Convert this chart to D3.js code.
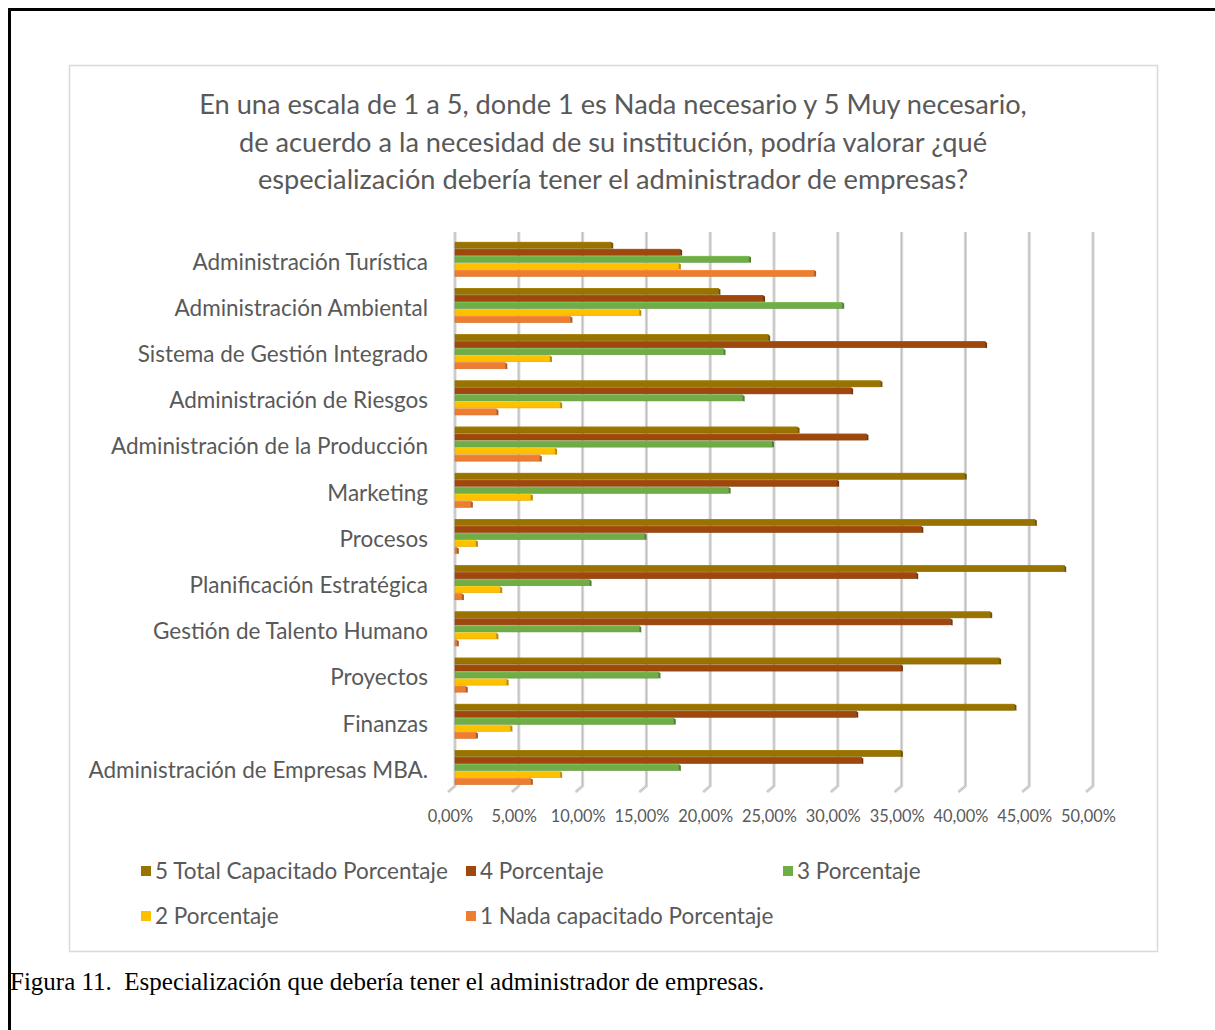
<!DOCTYPE html>
<html>
<head>
<meta charset="utf-8">
<script src="https://cdn.jsdelivr.net/npm/d3@7"></script>
<style>
  body { margin: 0; background: #fff; }
  svg { display: block; }
</style>
</head>
<body>
<div id="chart"></div>
<script>
// categories, top to bottom as they appear in the chart
var categories = [
    'Administración Turística',
    'Administración Ambiental',
    'Sistema de Gestión Integrado',
    'Administración de Riesgos',
    'Administración de la Producción',
    'Marketing',
    'Procesos',
    'Planificación Estratégica',
    'Gestión de Talento Humano',
    'Proyectos',
    'Finanzas',
    'Administración de Empresas MBA.'
];

var seriesNames = [
    '5 Total Capacitado Porcentaje',
    '4 Porcentaje',
    '3 Porcentaje',
    '2 Porcentaje',
    '1 Nada capacitado Porcentaje'
];
var seriesColors = ['#997300', '#9e480e', '#70ad47', '#ffc000', '#ed7d31'];

// values per series, same order as categories
var total5 = [0.124, 0.208, 0.247, 0.335, 0.270, 0.401, 0.456, 0.479, 0.421, 0.428, 0.440, 0.351];
var pct4   = [0.178, 0.243, 0.417, 0.312, 0.324, 0.301, 0.367, 0.363, 0.390, 0.351, 0.316, 0.320];
var pct3   = [0.232, 0.305, 0.212, 0.227, 0.250, 0.216, 0.150, 0.107, 0.146, 0.161, 0.173, 0.177];
var pct2   = [0.177, 0.146, 0.076, 0.084, 0.080, 0.061, 0.018, 0.037, 0.034, 0.042, 0.045, 0.084];
var nada1  = [0.283, 0.092, 0.041, 0.034, 0.068, 0.014, 0.003, 0.007, 0.003, 0.010, 0.018, 0.061];

var seriesValues = [total5, pct4, pct3, pct2, nada1];

var xTicks = [0, 0.05, 0.10, 0.15, 0.20, 0.25, 0.30, 0.35, 0.40, 0.45, 0.50];

var titleLines = [
    'En una escala de 1 a 5, donde 1 es Nada necesario y 5 Muy necesario,',
    'de acuerdo a la necesidad de su institución, podría valorar ¿qué',
    'especialización debería tener el administrador de empresas?'
];
var caption = 'Figura 11.  Especialización que debería tener el administrador de empresas.';

var width = 1215, height = 1030;
var font = 'Lato, "Open Sans", sans-serif';
var textGray = '#595959';

var svg = d3.select('#chart').append('svg')
    .attr('width', width)
    .attr('height', height);

// outer document frame (runs off the right and bottom edge)
svg.append('path')
    .attr('d', 'M9.5,1040 V9.5 H1225')
    .attr('fill', 'none')
    .attr('stroke', '#000')
    .attr('stroke-width', 3);

// chart area frame
svg.append('rect')
    .attr('x', 69.5).attr('y', 65.5)
    .attr('width', 1088).attr('height', 886)
    .attr('fill', '#fff')
    .attr('stroke', '#d9d9d9')
    .attr('stroke-width', 1.5);

// title
svg.append('g').selectAll('text')
    .data(titleLines)
    .enter().append('text')
    .attr('x', 613)
    .attr('y', function(d, i) { return 114 + i * 37.5; })
    .attr('text-anchor', 'middle')
    .attr('font-family', font)
    .attr('font-size', 27.2)
    .attr('fill', textGray)
    .text(function(d) { return d; });

// scales
var x = d3.scaleLinear().domain([0, 0.5]).range([455, 1093]);
var y = d3.scaleBand().domain(categories)
    .range([236.2, 790.6])
    .paddingInner(0.24)
    .paddingOuter(0.12);
var ySeries = d3.scaleBand().domain(d3.range(seriesNames.length))
    .range([0, y.bandwidth()]);

var locale = d3.formatLocale({ decimal: ',', thousands: '.', grouping: [3], currency: ['', '€'] });
var pctFormat = locale.format('.2%');

// vertical gridlines with the little 3D foot at the bottom
var grid = svg.append('g').attr('class', 'grid');
var gridTop = 232, gridBottom = 786;
xTicks.forEach(function(t) {
    var gx = x(t);
    var d = 'M' + gx + ',' + gridTop + ' V' + gridBottom + ' L' + (gx - 7) + ',' + (gridBottom + 6);
    grid.append('path').attr('d', d)
        .attr('fill', 'none').attr('stroke', '#dadada').attr('stroke-width', 3.2);
    grid.append('path').attr('d', d)
        .attr('fill', 'none').attr('stroke', '#bcbcbc').attr('stroke-width', 1);
});

// x axis via d3 axis, styling the default output
var xAxis = d3.axisBottom(x).tickValues(xTicks).tickFormat(pctFormat).tickSize(0).tickPadding(0);
var axisG = svg.append('g')
    .attr('transform', 'translate(-5,' + 810 + ')')
    .call(xAxis);
axisG.select('.domain').remove();
axisG.selectAll('text')
    .attr('font-family', font)
    .attr('font-size', 16.4)
    .attr('fill', textGray);

// category labels
var yAxis = d3.axisLeft(y).tickSize(0).tickPadding(0);
var yG = svg.append('g')
    .attr('transform', 'translate(428,3)')
    .call(yAxis);
yG.select('.domain').remove();
yG.selectAll('text')
    .attr('font-family', font)
    .attr('font-size', 22.5)
    .attr('fill', textGray);

// bars
var bars = svg.append('g').attr('class', 'bars');
seriesValues.forEach(function(vals, s) {
    var col = seriesColors[s];
    var dark = d3.color(col).darker(0.9).toString();
    var g = bars.append('g');
    var data = categories.map(function(c, i) { return { cat: c, value: vals[i] }; });
    var sel = g.selectAll('g').data(data).enter().append('g')
        .attr('transform', function(d) { return 'translate(0,' + (y(d.cat) + ySeries(s)) + ')'; });
    var bh = ySeries.bandwidth();
    // main face
    sel.append('rect')
        .attr('x', x(0))
        .attr('y', 0.5)
        .attr('width', function(d) { return Math.max(0, x(d.value) - x(0) - 2); })
        .attr('height', bh - 1)
        .attr('fill', col)
        .attr('stroke', d3.color(col).darker(0.4))
        .attr('stroke-width', 0.6);
    // end cap for the 3D look
    sel.append('path')
        .attr('d', function(d) {
            var ex = x(d.value) - 2;
            return 'M' + ex + ',0.5 L' + (ex + 2) + ',1.5 L' + (ex + 2) + ',' + (bh) + ' L' + ex + ',' + (bh - 0.5) + 'Z';
        })
        .attr('fill', dark);
    // top highlight edge
    sel.append('line')
        .attr('x1', x(0)).attr('x2', function(d) { return x(d.value) - 2; })
        .attr('y1', 0.6).attr('y2', 0.6)
        .attr('stroke', d3.color(col).brighter(0.3))
        .attr('stroke-width', 0.8);
});

// legend
var legendPos = [
    { x: 141, y: 871 }, { x: 466, y: 871 }, { x: 783, y: 871 },
    { x: 141, y: 916 }, { x: 466, y: 916 }
];
var legend = svg.append('g').attr('class', 'legend');
seriesNames.forEach(function(name, i) {
    var item = legend.append('g').attr('transform', 'translate(' + legendPos[i].x + ',' + legendPos[i].y + ')');
    item.append('rect')
        .attr('x', 0).attr('y', -5)
        .attr('width', 10).attr('height', 10)
        .attr('fill', seriesColors[i]);
    item.append('text')
        .attr('x', 14).attr('y', 0)
        .attr('dy', '0.35em')
        .attr('font-family', font)
        .attr('font-size', 22.5)
        .attr('fill', textGray)
        .text(name);
});

// figure caption below the chart box
svg.append('text')
    .attr('x', 10)
    .attr('y', 990)
    .attr('xml:space', 'preserve')
    .style('white-space', 'pre')
    .attr('font-family', '"Liberation Serif", "Times New Roman", serif')
    .attr('font-size', 25)
    .attr('fill', '#000')
    .text(caption);
</script>
</body>
</html>
